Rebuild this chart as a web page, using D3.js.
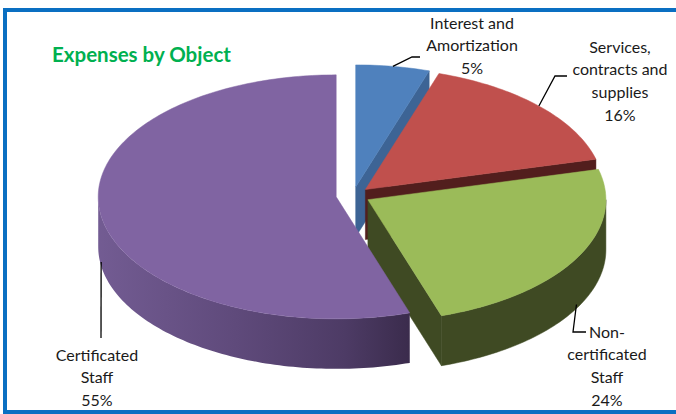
<!DOCTYPE html>
<html>
<head>
<meta charset="utf-8">
<script src="https://cdn.jsdelivr.net/npm/d3@7"></script>
<style>
  html, body { margin: 0; padding: 0; background: #ffffff; }
  svg { display: block; }
  text { font-family: Lato, "Open Sans", sans-serif; }
</style>
</head>
<body>
<svg id="chart" width="676" height="414"></svg>
<script>
// ---- data -----------------------------------------------------------
const categories = [
  "Interest and Amortization",
  "Services, contracts and supplies",
  "Non-certificated Staff",
  "Certificated Staff"
];
const values = [5, 16, 24, 55];
const labelLines = [
  ["Interest and", "Amortization"],
  ["Services,", "contracts and", "supplies"],
  ["Non-", "certificated", "Staff"],
  ["Certificated", "Staff"]
];
const chartTitle = "Expenses by Object";

// ---- styling ----------------------------------------------------------
const topColors  = ["#4F81BD", "#C0504D", "#9BBB59", "#8064A2"];
const faceColors = ["#3D6495", "#521E1D", "#3F4A23", "#4A3962"];

// ---- layout -----------------------------------------------------------
const W = 676, H = 414;
const cx = 353, cy = 195.5;      // centre of the pie's top face
const rx = 238, ry = 122;        // ellipse radii of the tilted disc
const depth = 50;                // thickness of the disc
const explode = 17;              // how far each slice is pulled out
const lineStep = 22.7;

// label block anchors (centre x, first baseline) and leader elbows
const labelLayout = [
  { x: 472, y: 28.5,  leader: [[412, 57], [420, 57]] },
  { x: 620, y: 52.5,  leader: [[555, 76], [567, 76]] },
  { x: 607, y: 337.5, leader: [[573, 332], [586, 332]], onSide: true },
  { x: 97,  y: 360.5, leader: [[101, 338]], onSide: true }
];

const svg = d3.select("#chart");

// outer frame
svg.append("rect")
  .attr("x", 5).attr("y", 10)
  .attr("width", W + 10).attr("height", 402)
  .attr("fill", "none")
  .attr("stroke", "#0A6FC2")
  .attr("stroke-width", 4);

svg.append("text")
  .attr("x", 52).attr("y", 62)
  .attr("fill", "#00B050")
  .attr("font-weight", 700)
  .attr("font-size", 20.5)
  .text(chartTitle);

const pie = d3.pie().sort(null).value(d => d);
const arcs = pie(values);
const total = d3.sum(values);
const pct = d3.format(".0%");

// projection of an angle (clockwise from 12 o'clock) onto the tilted disc
function rim(o, a, dy = 0) {
  return [o[0] + rx * Math.sin(a), o[1] - ry * Math.cos(a) + dy];
}
function sampleArc(o, a0, a1, dy = 0) {
  const n = Math.max(2, Math.ceil(Math.abs(a1 - a0) / 0.02));
  return d3.range(n + 1).map(i => rim(o, a0 + (a1 - a0) * i / n, dy));
}
const line = d3.line();

const slices = arcs.map((d, i) => {
  const mid = (d.startAngle + d.endAngle) / 2;
  const o = [cx + explode * Math.sin(mid), cy - explode * (ry / rx) * Math.cos(mid)];
  return { d, i, mid, o };
});

// side faces: curved outer walls and the visible radial cuts
const faces = [];
slices.forEach(s => {
  const { d, i, o } = s;
  const b0 = Math.max(d.startAngle, Math.PI / 2);
  const b1 = Math.min(d.endAngle, Math.PI * 1.5);
  if (b1 > b0) {
    const top = sampleArc(o, b0, b1);
    const bottom = sampleArc(o, b1, b0, depth);
    const pts = top.concat(bottom);
    faces.push({ i, kind: "wall", pts, z: d3.mean(pts, p => p[1]) });
  }
  const cut = a => {
    const r = rim(o, a);
    const pts = [o, r, [r[0], r[1] + depth], [o[0], o[1] + depth]];
    faces.push({ i, kind: "cut", pts, z: d3.mean(pts, p => p[1]) });
  };
  if (Math.sin(d.endAngle) > 1e-6) cut(d.endAngle);
  if (Math.sin(d.startAngle) < -1e-6) cut(d.startAngle);
});
faces.sort((a, b) => a.z - b.z);

// gradient for the large purple wall
const defs = svg.append("defs");
const grad = defs.append("linearGradient")
  .attr("id", "wallCert")
  .attr("gradientUnits", "userSpaceOnUse")
  .attr("x1", cx - rx - 20).attr("x2", cx + 55).attr("y1", 0).attr("y2", 0);
[[0, "#735C93"], [0.45, "#5F4A7B"], [0.8, "#4D3B65"], [1, "#3B2C4D"]]
  .forEach(([o, c]) => grad.append("stop").attr("offset", o).attr("stop-color", c));

const gPie = svg.append("g");
gPie.selectAll("path.face")
  .data(faces)
  .join("path")
  .attr("class", "face")
  .attr("d", f => line(f.pts) + "Z")
  .attr("fill", f => (f.kind === "wall" && f.i === 3) ? "url(#wallCert)" : faceColors[f.i])
  .attr("stroke", f => (f.kind === "wall" && f.i === 3) ? "none" : faceColors[f.i])
  .attr("stroke-width", 0.5);

gPie.selectAll("path.top")
  .data(slices)
  .join("path")
  .attr("class", "top")
  .attr("d", s => line([s.o].concat(sampleArc(s.o, s.d.startAngle, s.d.endAngle))) + "Z")
  .attr("fill", s => topColors[s.i])
  .attr("stroke", s => topColors[s.i])
  .attr("stroke-width", 0.5);

// data labels with leader lines
const gLab = svg.append("g");
slices.forEach(s => {
  const L = labelLayout[s.i];
  const start = rim(s.o, s.mid, L.onSide ? depth - 4 : 0);
  gLab.append("path")
    .attr("d", line([start].concat(L.leader)))
    .attr("fill", "none")
    .attr("stroke", "#000")
    .attr("stroke-width", 1.3);
  const lines = labelLines[s.i].concat([pct(values[s.i] / total)]);
  const t = gLab.append("text")
    .attr("text-anchor", "middle")
    .attr("font-size", 16)
    .attr("fill", "#1A1A1A");
  lines.forEach((txt, j) => {
    t.append("tspan").attr("x", L.x).attr("y", L.y + j * lineStep).text(txt);
  });
});
</script>
</body>
</html>
